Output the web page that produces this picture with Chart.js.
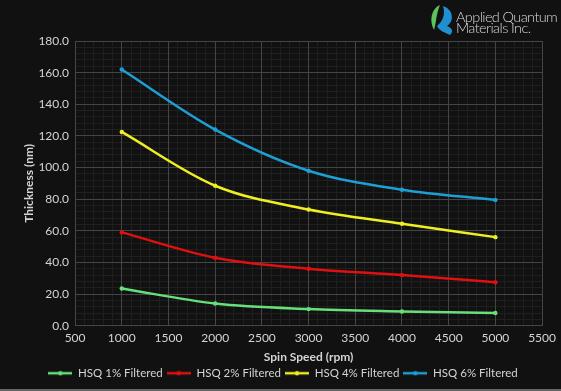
<!DOCTYPE html>
<html>
<head>
<meta charset="utf-8">
<script src="https://cdn.jsdelivr.net/npm/chart.js@4/dist/chart.umd.min.js"></script>
<style>
  html, body { margin:0; padding:0; background:#111111; overflow:hidden; }
  #wrap { position:relative; width:561px; height:391px; background:#111111; overflow:hidden; }
  #wrap:after { content:""; position:absolute; left:0; right:0; bottom:0; height:2px; background:#666; }
  #c { position:absolute; left:0; top:0; }
  #logo { position:absolute; left:428px; top:4px; width:200px; height:32px; }
  #logo svg { position:absolute; left:0; top:0; }
  #logo .t { position:absolute; left:28px; font-family:'Lato','Open Sans',sans-serif; font-weight:300; font-size:14.5px; color:#d8d8d8; letter-spacing:-0.6px; line-height:12px; white-space:nowrap; }
</style>
</head>
<body>
<div id="wrap">
  <canvas id="c" width="561" height="389"></canvas>
  <div id="logo">
    <svg width="28" height="32" viewBox="0 0 28 32">
      <path d="M12 1 C3 5, 1 17, 6 26 C8 21, 8 10, 12 1 Z" fill="#5cc45a"/>
      <path d="M15 2 C25 5, 27 17, 19 22 C24 24, 26 27, 22 31 C18 29, 11 27, 9 22 C14 18, 18 11, 15 2 Z" fill="#1f8fd0"/>
    </svg>
    <div class="t" style="top:7px;">Applied Quantum</div>
    <div class="t" style="top:18px;">Materials Inc.</div>
  </div>
</div>
<script>
const spinSpeed = [1000, 2000, 3000, 4000, 5000];
const hsq1 = [23.5, 14.0, 10.5, 9.0, 8.0];
const hsq2 = [59.0, 43.0, 36.0, 32.0, 27.5];
const hsq4 = [122.5, 88.5, 73.5, 64.5, 56.0];
const hsq6 = [162.0, 124.0, 98.0, 86.0, 79.5];
const seriesNames = ['HSQ 1% Filtered', 'HSQ 2% Filtered', 'HSQ 4% Filtered', 'HSQ 6% Filtered'];
const seriesColors = ['#66e07a', '#e01010', '#eeee22', '#1e9fd4'];
const seriesValues = [hsq1, hsq2, hsq4, hsq6];

function legendIcon(color) {
  const cv = document.createElement('canvas');
  cv.width = 24; cv.height = 6;
  const g = cv.getContext('2d');
  g.strokeStyle = color; g.lineWidth = 2.5;
  g.beginPath(); g.moveTo(0, 3); g.lineTo(24, 3); g.stroke();
  g.fillStyle = color;
  g.beginPath(); g.arc(12, 3, 2.2, 0, Math.PI * 2); g.fill();
  return cv;
}

const datasets = seriesNames.map((name, i) => ({
  label: name,
  data: spinSpeed.map((x, j) => ({x: x, y: seriesValues[i][j]})),
  borderColor: seriesColors[i],
  backgroundColor: seriesColors[i],
  borderWidth: 2.5,
  pointRadius: 2.2,
  pointHoverRadius: 2.2,
  pointStyle: 'circle',
  pointBorderWidth: 0,
  cubicInterpolationMode: 'monotone',
  fill: false,
  _icon: legendIcon(seriesColors[i])
}));

const txt = '#d4d4d4';
const major = '#454545';
const minor = '#1f1f1f';
const fontFam = "'Lato', 'Open Sans', sans-serif";

new Chart(document.getElementById('c'), {
  type: 'line',
  data: { datasets: datasets },
  options: {
    responsive: false,
    animation: false,
    layout: { padding: { left: 18, right: 13, top: 41, bottom: 0 } },
    plugins: {
      tooltip: { enabled: false },
      legend: {
        position: 'bottom',
        labels: {
          color: txt,
          font: { family: fontFam, size: 11.5 },
          usePointStyle: true,
          pointStyleWidth: 24,
          boxHeight: 6,
          padding: 4,
          generateLabels: (chart) => chart.data.datasets.map((d, i) => ({
            text: d.label, fontColor: txt, pointStyle: d._icon,
            strokeStyle: d.borderColor, fillStyle: d.borderColor, lineWidth: 0, datasetIndex: i
          }))
        }
      }
    },
    scales: {
      xm: {
        type: 'linear', position: 'top', min: 500, max: 5500, z: -1,
        ticks: { display: false, stepSize: 100 },
        grid: { color: minor, drawTicks: false, lineWidth: 1 },
        border: { display: true, color: major }
      },
      ym: {
        type: 'linear', position: 'right', min: 0, max: 180, z: -1,
        ticks: { display: false, stepSize: 4 },
        grid: { color: minor, drawTicks: false, lineWidth: 1 },
        border: { display: true, color: major }
      },
      x: {
        type: 'linear', position: 'bottom', min: 500, max: 5500,
        ticks: { stepSize: 500, color: txt, font: { family: fontFam, size: 12 }, padding: 5, maxRotation: 0, callback: v => String(v) },
        grid: { color: major, drawTicks: false },
        border: { color: major },
        title: { display: true, text: 'Spin Speed (rpm)', color: txt, font: { family: fontFam, size: 12, weight: 'bold' }, padding: { top: 0, bottom: -1 } }
      },
      y: {
        type: 'linear', position: 'left', min: 0, max: 180,
        ticks: { stepSize: 20, color: txt, font: { family: fontFam, size: 12 }, padding: 6, callback: v => v.toFixed(1) },
        grid: { color: major, drawTicks: false },
        border: { color: major },
        title: { display: true, text: 'Thickness (nm)', color: txt, font: { family: fontFam, size: 12, weight: 'bold' }, padding: { top: 4, bottom: -4 } }
      }
    }
  }
});
</script>
</body>
</html>
